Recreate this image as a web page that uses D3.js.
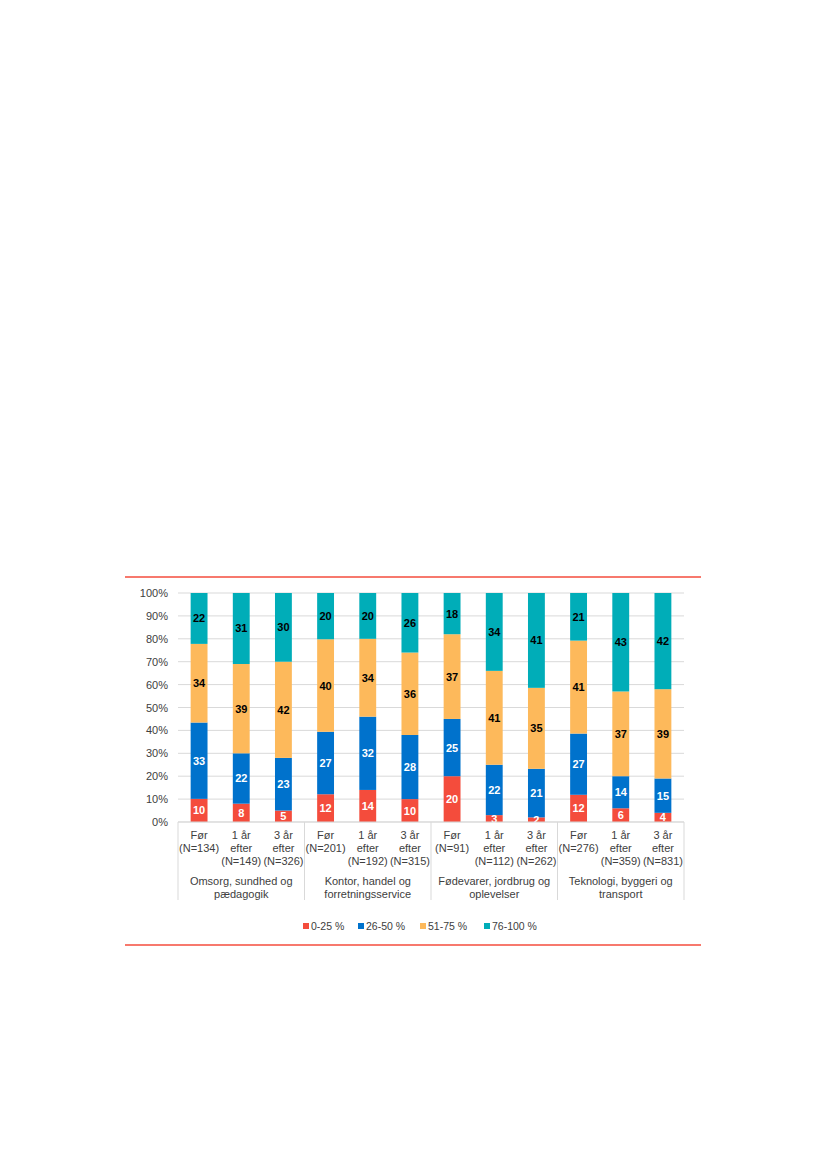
<!DOCTYPE html>
<html><head><meta charset="utf-8">
<script src="https://cdn.jsdelivr.net/npm/d3@7"></script>
<style>body{margin:0;background:#fff}svg{display:block}text{font-family:"Liberation Sans",Arial,sans-serif}</style>
</head><body>
<svg id="c" width="827" height="1169"></svg>
<script>
const groups = ["Omsorg, sundhed og|pædagogik","Kontor, handel og|forretningsservice","Fødevarer, jordbrug og|oplevelser","Teknologi, byggeri og|transport"];
const bars = [
 ["Før","(N=134)"],["1 år","efter","(N=149)"],["3 år","efter","(N=326)"],
 ["Før","(N=201)"],["1 år","efter","(N=192)"],["3 år","efter","(N=315)"],
 ["Før","(N=91)"],["1 år","efter","(N=112)"],["3 år","efter","(N=262)"],
 ["Før","(N=276)"],["1 år","efter","(N=359)"],["3 år","efter","(N=831)"]
];
const seriesNames = ["0-25 %","26-50 %","51-75 %","76-100 %"];
const s0_25   = [10,8,5,12,14,10,20,3,2,12,6,4];
const s26_50  = [33,22,23,27,32,28,25,22,21,27,14,15];
const s51_75  = [34,39,42,40,34,36,37,41,35,41,37,39];
const s76_100 = [22,31,30,20,20,26,18,34,41,21,43,42];
const yTicks = [0,10,20,30,40,50,60,70,80,90,100];
const colors = ["#F44C3C","#0072CC","#FDB95B","#00ADB8"];
const labelColors = ["#fff","#fff","#000","#000"];

const svg = d3.select("#c");
const L=178, R=684, T=593, B=822;
const x = d3.scaleBand().domain(d3.range(bars.length)).range([L,R]).paddingInner(0.6).paddingOuter(0.3);
const y = d3.scaleLinear().domain([0,100]).range([B,T]);

// red rules
svg.append("line").attr("x1",125).attr("x2",701).attr("y1",577).attr("y2",577).attr("stroke","#F44C3C").attr("stroke-width",1.5);
svg.append("line").attr("x1",125).attr("x2",701).attr("y1",945).attr("y2",945).attr("stroke","#F44C3C").attr("stroke-width",1.5);

// grid
svg.append("g").selectAll("line").data(yTicks).join("line")
 .attr("x1",L).attr("x2",R).attr("y1",d=>y(d)).attr("y2",d=>y(d))
 .attr("stroke","#d9d9d9").attr("stroke-width",1);
svg.append("g").selectAll("text").data(yTicks).join("text")
 .attr("x",168).attr("y",d=>y(d)+4).attr("text-anchor","end").attr("font-size",11).attr("fill","#404040")
 .text(d=>d+"%");

// stacks
const rows = bars.map((b,i)=>({i, v:[s0_25[i],s26_50[i],s51_75[i],s76_100[i]]}));
rows.forEach(r=>{
  const tot = d3.sum(r.v);
  let acc=0;
  r.v.forEach((v,k)=>{
    const a=acc/tot*100, b=(acc+v)/tot*100; acc+=v;
    svg.append("rect").attr("x",x(r.i)).attr("width",x.bandwidth())
      .attr("y",y(b)).attr("height",y(a)-y(b)).attr("fill",colors[k]);
  });
  acc=0;
  r.v.forEach((v,k)=>{
    const a=acc/tot*100, b=(acc+v)/tot*100; acc+=v;
    svg.append("text").attr("x",x(r.i)+x.bandwidth()/2).attr("y",y((a+b)/2)+4)
      .attr("text-anchor","middle").attr("font-size",11).attr("font-weight","bold")
      .attr("fill",labelColors[k]).text(v);
  });
});

// category axis box
const sepX = d3.range(groups.length+1).map(g=>L+(R-L)*g/groups.length);
svg.append("line").attr("x1",L).attr("x2",R).attr("y1",B).attr("y2",B).attr("stroke","#d9d9d9");
svg.append("g").selectAll("line").data(sepX).join("line")
 .attr("x1",d=>d).attr("x2",d=>d).attr("y1",B).attr("y2",900).attr("stroke","#d9d9d9");

bars.forEach((b,i)=>{
  const cx = x(i)+x.bandwidth()/2;
  b.forEach((t,j)=>{
    svg.append("text").attr("x",cx).attr("y",839+j*13).attr("text-anchor","middle")
     .attr("font-size",11).attr("fill","#404040").text(t);
  });
});
groups.forEach((g,gi)=>{
  const cx=(sepX[gi]+sepX[gi+1])/2;
  g.split("|").forEach((t,j)=>{
    svg.append("text").attr("x",cx).attr("y",885+j*13).attr("text-anchor","middle")
     .attr("font-size",11).attr("fill","#404040").text(t);
  });
});

// legend
const legX=[303,358,420,484];
seriesNames.forEach((n,k)=>{
  svg.append("rect").attr("x",legX[k]).attr("y",923).attr("width",6).attr("height",6).attr("fill",colors[k]);
  svg.append("text").attr("x",legX[k]+8).attr("y",930).attr("font-size",10.5).attr("fill","#404040").text(n);
});
</script>
</body></html>
